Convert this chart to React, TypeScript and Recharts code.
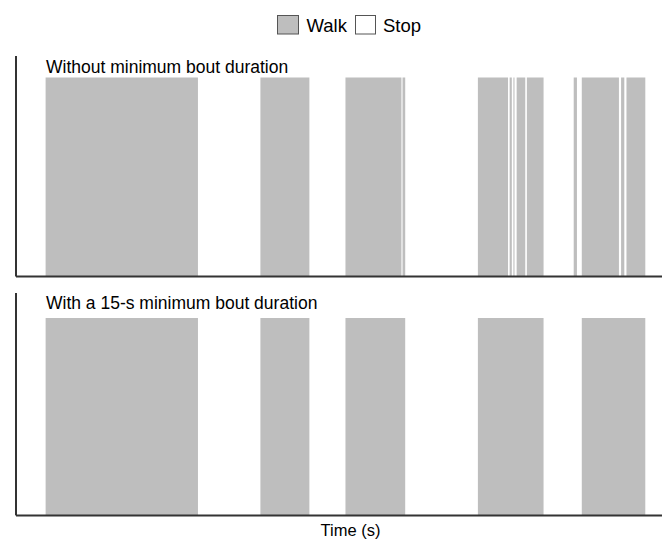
import { AreaChart, Area, XAxis, YAxis } from 'recharts';

// walk bouts in seconds (start / end)
const rawStarts = [27.5, 227, 306, 359, 429, 458.5, 462, 465, 474.5, 518, 525.5, 562, 567];
const rawEnds = [169, 272.5, 358, 361.5, 457, 460.5, 463, 473, 490, 521, 560, 565, 584.5];

const minBoutStarts = [27.5, 227, 306, 429, 525.5];
const minBoutEnds = [169, 272.5, 361.5, 490, 584.5];

const totalTime = 600;

const toSteps = (starts: number[], ends: number[]) => {
  const pts = [{ t: 0, walk: 0 }];
  starts.forEach((s, i) => {
    pts.push({ t: s, walk: 1 });
    pts.push({ t: ends[i], walk: 0 });
  });
  pts.push({ t: totalTime, walk: 0 });
  return pts;
};

const FONT = '"Liberation Sans", Arial, sans-serif';
const WALK = '#bebebe';
const AXIS = '#333';

const Panel = ({ data, top, height, yMax }: { data: { t: number; walk: number }[]; top: number; height: number; yMax: number }) => (
  <div style={{ position: 'absolute', left: 0, top }}>
    <AreaChart width={662} height={height + 6} data={data} margin={{ top: 0, right: 0, bottom: 4, left: 14 }}>
      <XAxis
        dataKey='t'
        type='number'
        domain={[0, totalTime]}
        allowDataOverflow
        tick={false}
        tickLine={false}
        height={2}
        axisLine={{ stroke: AXIS, strokeWidth: 2 }}
      />
      <YAxis
        type='number'
        domain={[0, yMax]}
        allowDataOverflow
        tick={false}
        tickLine={false}
        width={2}
        axisLine={{ stroke: AXIS, strokeWidth: 2 }}
      />
      <Area
        type='stepAfter'
        dataKey='walk'
        stroke='none'
        fill={WALK}
        fillOpacity={1}
        baseValue={0}
        dot={false}
        activeDot={false}
        isAnimationActive={false}
      />
    </AreaChart>
  </div>
);

export default function App() {
  return (
    <div style={{ position: 'absolute', left: 0, top: 0, width: 662, height: 543, background: '#fff', fontFamily: FONT }}>
      <Panel data={toSteps(rawStarts, rawEnds)} top={56} height={220.5} yMax={1.108} />
      <Panel data={toSteps(minBoutStarts, minBoutEnds)} top={293.3} height={222.4} yMax={1.127} />
      <svg width={662} height={543} style={{ position: 'absolute', left: 0, top: 0, pointerEvents: 'none' }} fontFamily={FONT}>
        <rect x={277.5} y={15.5} width={21} height={18.5} fill={WALK} stroke='#555' />
        <text x={306.5} y={32.3} fontSize={18.5} fill='#000'>Walk</text>
        <rect x={355.5} y={15.5} width={20} height={18.5} fill='#fff' stroke='#555' />
        <text x={383} y={32.3} fontSize={18.5} fill='#000'>Stop</text>
        <text x={46} y={73.3} fontSize={17.5} fill='#000'>Without minimum bout duration</text>
        <text x={46} y={309.3} fontSize={17.5} fill='#000'>With a 15-s minimum bout duration</text>
        <text x={350.5} y={535.5} fontSize={16.5} textAnchor='middle' fill='#000'>Time (s)</text>
      </svg>
    </div>
  );
}
